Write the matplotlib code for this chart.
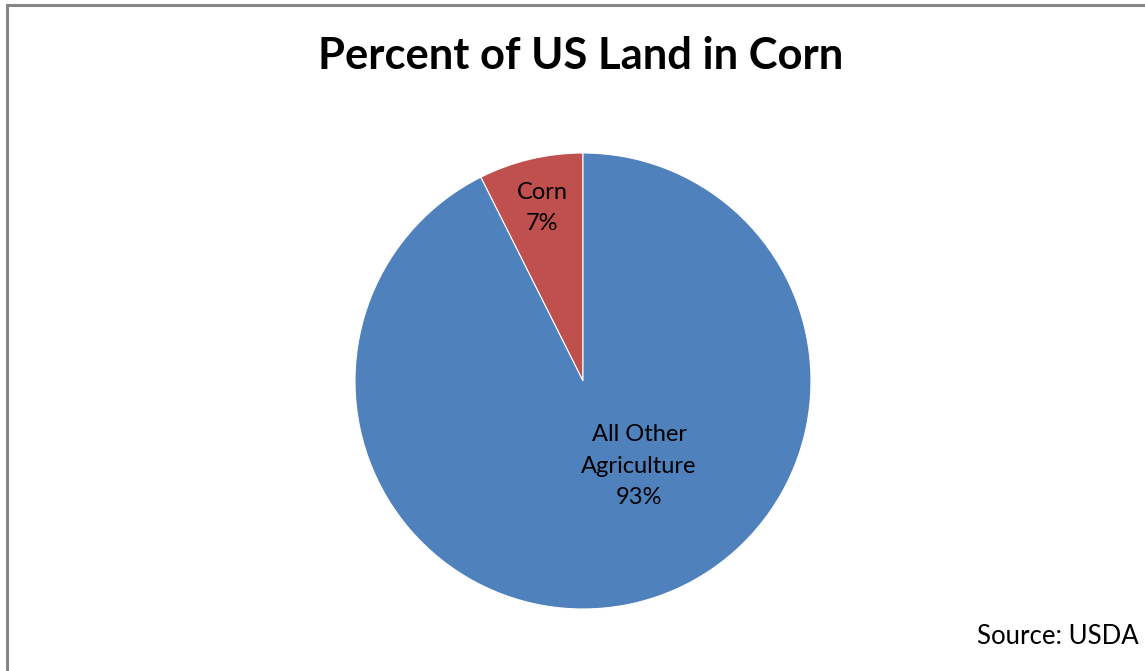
import matplotlib
matplotlib.use("Agg")
import matplotlib.pyplot as plt
from matplotlib.patches import Rectangle

categories = ["Corn", "All Other\nAgriculture"]
shares = [7.4, 92.6]
colors = ["#C0504D", "#4F81BD"]
title = "Percent of US Land in Corn"
source = "Source: USDA"

W, H = 1145, 671
fig = plt.figure(figsize=(W / 100, H / 100), dpi=100)
plt.rcParams['font.family'] = ['Lato', 'DejaVu Sans']

# outer frame (right and bottom edges lie outside the image)
fig.patches.append(Rectangle((6.5 / W, -0.05), 1.1, 1 - 4.5 / H + 0.05, transform=fig.transFigure,
                             fill=False, edgecolor="#868686", linewidth=2.2))

cx, cy, r = 583, 381, 228
ax = fig.add_axes([(cx - r) / W, (H - cy - r) / H, 2 * r / W, 2 * r / H])
wedges, _ = ax.pie(shares, colors=colors, startangle=90, counterclock=True,
                   wedgeprops=dict(edgecolor="white", linewidth=0.8), radius=1)
ax.set_xlim(-1, 1)
ax.set_ylim(-1, 1)
ax.set_aspect("equal")
ax.axis("off")

label_pos = [(-0.18, 0.759), (0.246, -0.373)]
for cat, val, (lx, ly) in zip(categories, shares, label_pos):
    ax.text(lx, ly, f"{cat}\n{round(val)}%", ha="center", va="center",
            fontsize=17, linespacing=1.62, color="black")

fig.text(581 / W, 1 - 56 / H, title, ha="center", va="center", fontsize=31.3, fontweight="bold")
fig.text(1139 / W, 1 - 637 / H, source, ha="right", va="center", fontsize=18.5)

fig.savefig("out.png", dpi=100)
